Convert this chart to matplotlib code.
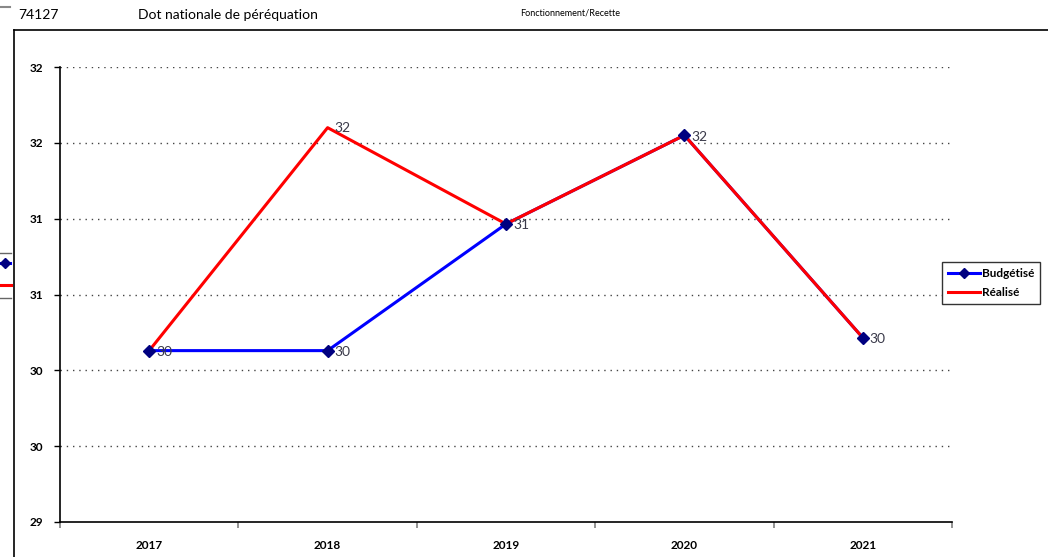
import numpy as np
import matplotlib
matplotlib.use("Agg")
import matplotlib.pyplot as plt
from matplotlib.lines import Line2D

plt.rcParams['font.family'] = ['Lato', 'DejaVu Sans']

# data
years = ['2017', '2018', '2019', '2020', '2021']
budgetise = [30.13, 30.13, 30.965, 31.55, 30.215]
realise = [30.13, 31.60, 30.965, 31.55, 30.215]
y_ticks = [29, 29.5, 30, 30.5, 31, 31.5, 32]
y_tick_labels = ['29', '30', '30', '31', '31', '32', '32']

W, H = 1048, 557
fig = plt.figure(figsize=(W / 100, H / 100), dpi=100)

def fx(px):
    return px / W

def fy(py):
    return 1 - py / H

ax = fig.add_axes([fx(60), fy(522), fx(952) - fx(60), fy(67) - fy(522)])
x = np.arange(len(years))

# blue line, red line over it, blue markers on top
ax.plot(x, budgetise, '-', color='#0000FF', lw=2.2, zorder=3, clip_on=False)
ax.plot(x, realise, '-', color='#FF0000', lw=2.2, zorder=4, clip_on=False)
ax.plot(x, budgetise, 'D', color='#000080', ms=6.5, zorder=5, clip_on=False)

lab_col = '#3a3a4a'
for i, v in enumerate(budgetise):
    ax.annotate('{:.0f}'.format(np.floor(v + 0.5)), (x[i], v), xytext=(5, -1),
                textcoords='offset points', va='center', ha='left',
                fontsize=10, color=lab_col, zorder=6)
for i, v in enumerate(realise):
    if v != budgetise[i]:
        ax.annotate('{:.0f}'.format(np.floor(v + 0.5)), (x[i], v), xytext=(5, 0),
                    textcoords='offset points', va='center', ha='left',
                    fontsize=10, color=lab_col, zorder=6)

ax.set_xlim(-0.5, len(years) - 0.5)
ax.set_ylim(29, 32)
ax.set_yticks(y_ticks)
ax.set_yticklabels(y_tick_labels, fontsize=8.5, fontweight='bold')
ax.set_xticks(x)
ax.set_xticklabels(years, fontsize=8.5, fontweight='bold')
ax.set_xticks(np.arange(-0.5, len(years), 1), minor=True)
ax.tick_params(axis='x', which='major', length=0, pad=13)
ax.tick_params(axis='x', which='minor', length=4, width=1.2, color='#808080', direction='out')
ax.tick_params(axis='y', length=4, width=1, direction='out', pad=8)

for yv in y_ticks[1:]:
    ax.axhline(yv, color='#444444', lw=1, ls=(0, (1, 3.5)), zorder=1)

for s in ['top', 'right']:
    ax.spines[s].set_visible(False)
ax.spines['left'].set_linewidth(1.2)
ax.spines['bottom'].set_linewidth(1.2)

handles = [Line2D([], [], color='#0000FF', lw=2.2, marker='D', ms=5,
                  markerfacecolor='#000080', markeredgecolor='#000080'),
           Line2D([], [], color='#FF0000', lw=2.2)]
leg = fig.legend(handles, ['Budgétisé', 'Réalisé'], loc='upper left',
                 bbox_to_anchor=(fx(942), fy(262)), bbox_transform=fig.transFigure,
                 borderaxespad=0, fancybox=False, edgecolor='#333333',
                 prop={'size': 8.5, 'weight': 'bold'}, handlelength=2.7,
                 handletextpad=0.2, borderpad=0.5, labelspacing=0.7, framealpha=1)
leg.get_frame().set_linewidth(1)

# frame and clipped legend at the left edge
fig.add_artist(Line2D([fx(14), 1], [fy(30), fy(30)], color='black', lw=1.2))
fig.add_artist(Line2D([fx(14), fx(14)], [fy(30), 0], color='black', lw=1.2))
fig.add_artist(Line2D([0, fx(10)], [fy(7), fy(7)], color='#888888', lw=1.5))
fig.add_artist(Line2D([0, fx(11)], [fy(253), fy(253)], color='#666666', lw=1))
fig.add_artist(Line2D([0, fx(11)], [fy(298), fy(298)], color='#666666', lw=1))
fig.add_artist(Line2D([0, fx(10)], [fy(263), fy(263)], color='#0000FF', lw=2.2))
fig.add_artist(Line2D([fx(5)], [fy(263)], color='#000080', marker='D', ms=5))
fig.add_artist(Line2D([0, fx(11)], [fy(285), fy(285)], color='#FF0000', lw=2.2))

fig.text(fx(18), fy(15), '74127', fontsize=10, va='center', ha='left')
fig.text(fx(138), fy(15), 'Dot nationale de péréquation', fontsize=10, va='center', ha='left')
fig.text(fx(520), fy(13), 'Fonctionnement/Recette', fontsize=6.5, va='center', ha='left')

fig.savefig('out.png', dpi=100)
